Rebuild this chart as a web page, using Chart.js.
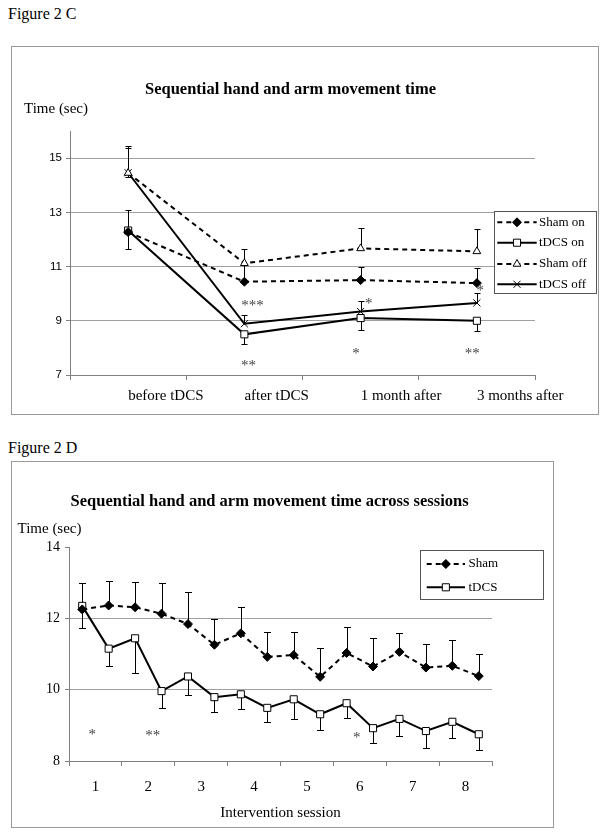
<!DOCTYPE html>
<html>
<head>
<meta charset="utf-8">
<script src="https://cdn.jsdelivr.net/npm/chart.js@4.4.1/dist/chart.umd.min.js"></script>
<style>
  html, body { margin: 0; padding: 0; background: #fff; }
  body { width: 603px; height: 835px; position: relative; overflow: hidden; font-family: "Liberation Serif", "Times New Roman", serif; }
  .fig { position: absolute; left: 8px; font-size: 16px; line-height: 18px; color: #000; }
  .frame { position: absolute; border: 1px solid #999; box-sizing: border-box; }
  .frame canvas { position: absolute; left: 0; top: 0; }
</style>
</head>
<body>
<div class="fig" style="top:5px">Figure 2 C</div>
<div class="frame" style="left:11px; top:46px; width:588px; height:369px"><canvas id="chartC" width="586" height="367"></canvas></div>
<div class="fig" style="top:439px">Figure 2 D</div>
<div class="frame" style="left:11px; top:461px; width:543px; height:367px"><canvas id="chartD" width="541" height="365"></canvas></div>
<script>
const serif = '"Liberation Serif", "Times New Roman", serif'
const sans = '"Liberation Sans", Arial, sans-serif'

// Figure 2 C: four time points
const periods = ['before tDCS', 'after tDCS', '1 month after', '3 months after']
const shamOn = [12.27, 10.44, 10.50, 10.39]
const shamOnUp = [0.81, 0.60, 0.49, 0.55]
const tdcsOn = [12.33, 8.50, 9.10, 9.00]
const tdcsOnDown = [0.69, 0.34, 0.43, 0.39]
const shamOff = [14.45, 11.12, 11.67, 11.56]
const shamOffUp = [0.94, 0.52, 0.77, 0.84]
const tdcsOff = [14.46, 8.89, 9.34, 9.66]
const tdcsOffUp = [0.99, 0.34, 0.38, 0.37]
const tdcsOffDown = [0.15, 0, 0, 0]
const timeTicksC = [7, 9, 11, 13, 15]
const starsC = [
  { at: 1.07, v: 9.66, text: '***' },
  { at: 1.035, v: 7.45, text: '**' },
  { at: 2.07, v: 9.72, text: '*' },
  { at: 1.96, v: 7.89, text: '*' },
  { at: 3.03, v: 10.2, text: '*' },
  { at: 2.96, v: 7.89, text: '**' },
]

// Figure 2 D: two measurements per session
const sessions = ['1', '2', '3', '4', '5', '6', '7', '8']
const sham = [12.25, 12.36, 12.31, 12.13, 11.84, 11.26, 11.58, 10.92, 10.97, 10.36, 11.03, 10.65, 11.06, 10.62, 10.67, 10.38]
const shamUp = [0.73, 0.70, 0.72, 0.86, 0.89, 0.73, 0.73, 0.71, 0.66, 0.81, 0.72, 0.79, 0.54, 0.67, 0.71, 0.62]
const tdcs = [12.35, 11.15, 11.44, 9.96, 10.37, 9.79, 9.87, 9.49, 9.73, 9.31, 9.62, 8.92, 9.18, 8.84, 9.10, 8.75]
const tdcsDown = [0.63, 0.49, 0.97, 0.47, 0.53, 0.41, 0.42, 0.41, 0.54, 0.45, 0.42, 0.42, 0.47, 0.48, 0.45, 0.45]
const timeTicksD = [8, 10, 12, 14]
const starsD = [
  { at: 0.38, v: 8.8, text: '*' },
  { at: 2.67, v: 8.77, text: '**' },
  { at: 10.38, v: 8.72, text: '*' },
]

const dashed = [5, 4]

const series = {
  shamOn: { pointStyle: 'rectRot', pointRadius: 4.5, pointBackgroundColor: '#000', borderDash: dashed },
  tdcsOn: { pointStyle: 'rect', pointRadius: 5, pointBackgroundColor: '#fff', borderDash: [] },
  shamOff: { pointStyle: 'triangle', pointRadius: 4.5, pointBackgroundColor: '#fff', borderDash: dashed },
  tdcsOff: { pointStyle: 'crossRot', pointRadius: 5, pointBackgroundColor: '#fff', borderDash: [] },
}

function line(label, data, style) {
  return Object.assign({
    label, data,
    borderColor: '#000', borderWidth: 2, tension: 0,
    pointBorderColor: '#000', pointBorderWidth: 1, pointHoverRadius: 5,
  }, style)
}

function marker(ctx, ds, x, y) {
  ctx.save()
  ctx.setLineDash([])
  ctx.fillStyle = ds.pointBackgroundColor
  ctx.strokeStyle = ds.pointBorderColor
  ctx.lineWidth = ds.pointBorderWidth
  Chart.helpers.drawPoint(ctx, { pointStyle: ds.pointStyle, radius: ds.pointRadius, rotation: 0, borderWidth: ds.pointBorderWidth }, x, y)
  ctx.restore()
}

// error bars, texts, stars and the boxed legend
function decor(cfg) {
  return {
    id: 'decor',
    beforeDatasetsDraw(chart) {
      const { ctx } = chart
      const y = chart.scales.y
      ctx.save()
      ctx.strokeStyle = '#000'
      ctx.lineWidth = 1
      cfg.errors.forEach((e) => {
        const meta = chart.getDatasetMeta(e.dataset)
        const vals = chart.data.datasets[e.dataset].data
        meta.data.forEach((pt, i) => {
          [[e.up, 1], [e.down, -1]].forEach(([arr, s]) => {
            if (!arr || !arr[i]) return
            const x = Math.round(pt.x) + 0.5
            const y0 = y.getPixelForValue(vals[i])
            const y1 = Math.round(y.getPixelForValue(vals[i] + s * arr[i])) + 0.5
            ctx.beginPath()
            ctx.moveTo(x, y0)
            ctx.lineTo(x, y1)
            ctx.moveTo(x - cfg.cap, y1)
            ctx.lineTo(x + cfg.cap, y1)
            ctx.stroke()
          })
        })
      })
      ctx.restore()
    },
    afterDraw(chart) {
      const { ctx } = chart
      const { x, y } = chart.scales
      ctx.save()
      ctx.fillStyle = '#000'
      ctx.textBaseline = 'middle'

      ctx.font = `bold 16.5px ${serif}`
      ctx.textAlign = 'center'
      ctx.fillText(cfg.title, cfg.titleX, cfg.titleY)

      ctx.font = `15px ${serif}`
      ctx.textAlign = 'left'
      ctx.fillText('Time (sec)', cfg.yLabelX, cfg.yLabelY)

      if (cfg.xLabel) {
        ctx.textAlign = 'center'
        ctx.fillText(cfg.xLabel, (chart.chartArea.left + chart.chartArea.right) / 2, cfg.xLabelY)
      }

      ctx.fillStyle = '#444'
      ctx.textAlign = 'center'
      cfg.stars.forEach((s) => {
        ctx.fillText(s.text, x.getPixelForValue(s.at), y.getPixelForValue(s.v) + 3)
      })

      const L = cfg.legend
      ctx.fillStyle = '#fff'
      ctx.fillRect(L.x, L.y, L.w, L.h)
      ctx.strokeStyle = '#555'
      ctx.lineWidth = 1
      ctx.strokeRect(L.x + 0.5, L.y + 0.5, L.w, L.h)
      chart.data.datasets.forEach((ds, i) => {
        const ry = L.rows[i]
        ctx.save()
        ctx.strokeStyle = ds.borderColor
        ctx.lineWidth = ds.borderWidth
        ctx.setLineDash(ds.borderDash || [])
        ctx.beginPath()
        ctx.moveTo(L.x1, ry)
        ctx.lineTo(L.x2, ry)
        ctx.stroke()
        ctx.restore()
        marker(ctx, ds, (L.x1 + L.x2) / 2, ry)
        ctx.fillStyle = '#000'
        ctx.font = `13px ${serif}`
        ctx.textAlign = 'left'
        ctx.fillText(ds.label, L.textX, ry)
      })
      ctx.restore()
    },
  }
}

Chart.defaults.animation = false
Chart.defaults.color = '#000'

new Chart(document.getElementById('chartC'), {
  type: 'line',
  data: {
    labels: periods,
    datasets: [
      line('Sham on', shamOn, series.shamOn),
      line('tDCS on', tdcsOn, series.tdcsOn),
      line('Sham off', shamOff, series.shamOff),
      line('tDCS off', tdcsOff, series.tdcsOff),
    ],
  },
  options: {
    responsive: false,
    devicePixelRatio: 1,
    layout: { padding: { left: 0, right: 63, top: 84, bottom: 0 } },
    plugins: { legend: { display: false }, tooltip: { enabled: false } },
    scales: {
      x: {
        offset: true,
        grid: { offset: true, drawOnChartArea: false, tickLength: 5, color: '#808080' },
        border: { color: '#808080' },
        ticks: { align: 'start', padding: 7, autoSkip: false, maxRotation: 0, font: { family: serif, size: 15 } },
        afterFit: (s) => { s.height = 39 },
      },
      y: {
        min: 7,
        max: 16,
        afterBuildTicks: (s) => { s.ticks = timeTicksC.map((v) => ({ value: v })) },
        grid: { color: '#a0a0a0', tickLength: 4, tickColor: '#808080' },
        border: { color: '#808080' },
        ticks: { padding: 4, font: { family: sans, size: 11.5 } },
        afterFit: (s) => { s.width = 58 },
      },
    },
  },
  plugins: [decor({
    title: 'Sequential hand and arm movement time',
    titleX: 278.5, titleY: 42.5,
    yLabelX: 12, yLabelY: 62,
    cap: 3,
    stars: starsC,
    errors: [
      { dataset: 0, up: shamOnUp },
      { dataset: 1, down: tdcsOnDown },
      { dataset: 2, up: shamOffUp },
      { dataset: 3, up: tdcsOffUp, down: tdcsOffDown },
    ],
    legend: { x: 482, y: 164, w: 102, h: 82, rows: [175.3, 195.7, 217, 237.3], x1: 485.3, x2: 524.7, textX: 527 },
  })],
})

new Chart(document.getElementById('chartD'), {
  type: 'line',
  data: {
    labels: sessions.flatMap((s) => [s, '']),
    datasets: [
      line('Sham', sham, series.shamOn),
      line('tDCS', tdcs, series.tdcsOn),
    ],
  },
  options: {
    responsive: false,
    devicePixelRatio: 1,
    layout: { padding: { left: 0, right: 61, top: 85, bottom: 0 } },
    plugins: { legend: { display: false }, tooltip: { enabled: false } },
    scales: {
      x: {
        offset: true,
        grid: {
          offset: true, drawOnChartArea: false, tickLength: 5,
          color: (c) => (c.index % 2 ? 'rgba(0,0,0,0)' : '#808080'),
        },
        border: { color: '#808080' },
        ticks: { labelOffset: 13.2, padding: 12, autoSkip: false, maxRotation: 0, font: { family: serif, size: 15 } },
        afterFit: (s) => { s.height = 66 },
      },
      y: {
        min: 8,
        max: 14,
        afterBuildTicks: (s) => { s.ticks = timeTicksD.map((v) => ({ value: v })) },
        grid: {
          color: (c) => (c.tick && c.tick.value === 14 ? 'rgba(0,0,0,0)' : '#a0a0a0'),
          tickLength: 4, tickColor: '#808080',
        },
        border: { color: '#808080' },
        ticks: { padding: 5, font: { family: serif, size: 14 } },
        afterFit: (s) => { s.width = 57 },
      },
    },
  },
  plugins: [decor({
    title: 'Sequential hand and arm movement time across sessions',
    titleX: 257.6, titleY: 40,
    yLabelX: 5.5, yLabelY: 67,
    xLabel: 'Intervention session', xLabelY: 351,
    cap: 3.5,
    stars: starsD,
    errors: [
      { dataset: 0, up: shamUp },
      { dataset: 1, down: tdcsDown },
    ],
    legend: { x: 408, y: 88, w: 123, h: 49, rows: [102, 125.3], x1: 414.7, x2: 453, textX: 456.5 },
  })],
})
</script>
</body>
</html>
